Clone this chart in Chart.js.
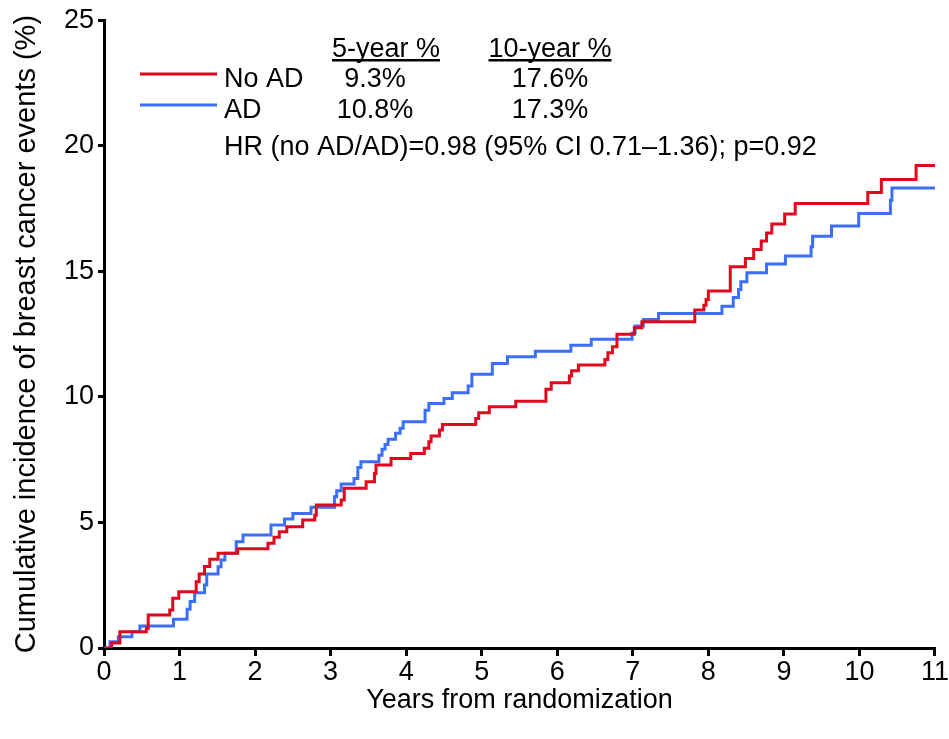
<!DOCTYPE html>
<html>
<head>
<meta charset="utf-8">
<script src="https://cdn.jsdelivr.net/npm/chart.js@4.4.1/dist/chart.umd.min.js"></script>
<style>
  html, body { margin: 0; padding: 0; background: #ffffff; }
  #wrap { width: 949px; height: 739px; position: relative; }
</style>
</head>
<body>
<div id="wrap"><canvas id="kmChart"></canvas></div>
<script>
// --- Cumulative incidence (step curves) ---

// No AD (red): event times (years) and cumulative incidence (%)
const noAdTimes = [0, 0.10, 0.21, 0.56, 0.585, 0.87, 0.91, 0.99, 1.22, 1.26, 1.33, 1.40, 1.51, 1.77,
    2.17, 2.25, 2.32, 2.42, 2.63, 2.79, 2.81, 3.14, 3.18, 3.47, 3.58, 3.60, 3.80,
    4.06, 4.24, 4.30, 4.33, 4.44, 4.48, 4.92, 4.96, 5.10, 5.45,
    5.85, 5.92, 6.16, 6.19, 6.28, 6.63, 6.67, 6.73, 6.79, 7.02, 7.12,
    7.82, 7.94, 7.97, 8.00, 8.29, 8.49, 8.60, 8.70, 8.77, 8.84, 9.01, 9.15, 10.11, 10.29, 10.75, 11.0];
const noAdValues = [0, 0.2, 0.65, 0.78, 1.31, 1.51, 1.98, 2.24, 2.64, 2.95, 3.25, 3.53, 3.77, 3.95,
    4.17, 4.41, 4.63, 4.83, 5.10, 5.29, 5.69, 5.89, 6.36, 6.62, 6.95, 7.29, 7.55,
    7.75, 7.95, 8.21, 8.44, 8.68, 8.90, 9.14, 9.37, 9.61, 9.83,
    10.30, 10.56, 10.83, 11.04, 11.27, 11.49, 11.76, 12.0, 12.49, 12.75, 12.99,
    13.46, 13.65, 13.88, 14.22, 15.18, 15.51, 15.87, 16.21, 16.53, 16.88, 17.28, 17.70, 18.14, 18.66, 19.21, 19.21];

// AD (blue)
const adTimes = [0, 0.08, 0.19, 0.37, 0.475, 0.92, 1.10, 1.14, 1.20, 1.33, 1.36, 1.51, 1.55, 1.60, 1.75, 1.84,
    2.21, 2.39, 2.50, 2.74, 3.05, 3.08, 3.14, 3.31, 3.36, 3.40, 3.64, 3.68, 3.72, 3.76,
    3.86, 3.92, 3.96, 4.25, 4.30, 4.50, 4.61, 4.82, 4.87, 5.14, 5.34, 5.71, 6.18, 6.45,
    6.99, 7.03, 7.14, 7.34, 8.18, 8.33, 8.40, 8.43, 8.51, 8.77, 9.02, 9.36, 9.38, 9.63, 9.99, 10.41, 10.43, 11.0];
const adValues = [0, 0.25, 0.45, 0.65, 0.88, 1.14, 1.54, 1.85, 2.2, 2.51, 2.95, 3.24, 3.50, 3.77, 4.23, 4.50,
    4.90, 5.14, 5.36, 5.60, 6.02, 6.26, 6.53, 6.75, 7.19, 7.42, 7.68, 7.91, 8.10, 8.31,
    8.55, 8.75, 9.01, 9.47, 9.74, 9.94, 10.16, 10.43, 10.90, 11.33, 11.60, 11.82, 12.06, 12.29,
    12.53, 12.82, 13.08, 13.32, 13.61, 13.96, 14.28, 14.58, 14.94, 15.29, 15.61, 15.98, 16.40, 16.80, 17.30, 17.83, 18.32, 18.32];

// Axis ticks
const xTicks = [0, 1, 2, 3, 4, 5, 6, 7, 8, 9, 10, 11];
const yTicks = [0, 5, 10, 15, 20, 25];

// Inset table text
const groupNames = ['No AD', 'AD'];
const fiveYear = ['9.3%', '10.8%'];
const tenYear = ['17.6%', '17.3%'];
const hrText = 'HR (no AD/AD)=0.98 (95% CI 0.71\u20131.36); p=0.92';

const RED = '#e1071d';
const BLUE = '#3d6ef7';
const FONT = '"Liberation Sans", Arial, sans-serif';

const toPoints = (xs, ys) => xs.map((x, i) => ({ x: x, y: ys[i] }));

// Draws the small table / legend in the upper left of the plot
const insetTable = {
    id: 'insetTable',
    afterDraw(chart) {
        const ctx = chart.ctx;
        ctx.save();
        ctx.fillStyle = '#000';
        ctx.font = '27px ' + FONT;
        ctx.textBaseline = 'alphabetic';

        // column headers, underlined
        const headers = [['5-year %', 386], ['10-year %', 550]];
        headers.forEach(([txt, cx]) => {
            ctx.textAlign = 'center';
            ctx.fillText(txt, cx, 57);
            const w = ctx.measureText(txt).width;
            ctx.fillRect(cx - w / 2, 59, w, 2.5);
        });

        const rowsY = [87, 118];
        const lineY = [74, 105];
        const colors = [RED, BLUE];
        groupNames.forEach((name, i) => {
            ctx.strokeStyle = colors[i];
            ctx.lineWidth = 3;
            ctx.beginPath();
            ctx.moveTo(140, lineY[i]);
            ctx.lineTo(217, lineY[i]);
            ctx.stroke();

            ctx.textAlign = 'left';
            ctx.fillText(name, 224, rowsY[i]);
            ctx.textAlign = 'center';
            ctx.fillText(fiveYear[i], 375, rowsY[i]);
            ctx.fillText(tenYear[i], 550, rowsY[i]);
        });

        ctx.textAlign = 'left';
        ctx.fillText(hrText, 224, 155);
        ctx.restore();
    }
};

const stepDataset = (label, xs, ys, color) => ({
    label: label,
    data: toPoints(xs, ys),
    borderColor: color,
    backgroundColor: color,
    borderWidth: 3,
    stepped: 'before',
    pointRadius: 0,
    fill: false,
    tension: 0
});

new Chart(document.getElementById('kmChart'), {
    type: 'line',
    data: {
        datasets: [
            stepDataset('No AD', noAdTimes, noAdValues, RED),
            stepDataset('AD', adTimes, adValues, BLUE)
        ]
    },
    options: {
        responsive: true,
        maintainAspectRatio: false,
        animation: false,
        layout: { padding: { top: 20, right: 12, left: 0, bottom: 0 } },
        plugins: {
            legend: { display: false },
            tooltip: { enabled: false }
        },
        scales: {
            x: {
                type: 'linear',
                min: 0,
                max: 11,
                afterBuildTicks: (s) => { s.ticks = xTicks.map(v => ({ value: v })); },
                afterFit: (s) => { s.height = 91; },
                border: { display: true, color: '#000', width: 3 },
                grid: { display: true, drawOnChartArea: false, drawTicks: true, color: '#000', lineWidth: 3, tickLength: 8 },
                ticks: { color: '#000', font: { family: FONT, size: 27 }, padding: 0, maxRotation: 0 },
                title: {
                    display: true,
                    text: 'Years from randomization',
                    color: '#000',
                    font: { family: FONT, size: 27 },
                    padding: { top: 0, bottom: 22 }
                }
            },
            y: {
                min: 0,
                max: 25,
                afterBuildTicks: (s) => { s.ticks = yTicks.map(v => ({ value: v })); },
                afterFit: (s) => { s.width = 104; },
                border: { display: true, color: '#000', width: 3 },
                grid: { display: true, drawOnChartArea: false, drawTicks: true, color: '#000', lineWidth: 3, tickLength: 6 },
                ticks: { color: '#000', font: { family: FONT, size: 27 }, padding: 4 },
                title: {
                    display: true,
                    text: 'Cumulative incidence of breast cancer events (%)',
                    color: '#000',
                    font: { family: FONT, size: 29 },
                    padding: { top: 10, bottom: 0 }
                }
            }
        }
    },
    plugins: [insetTable]
});
</script>
</body>
</html>
